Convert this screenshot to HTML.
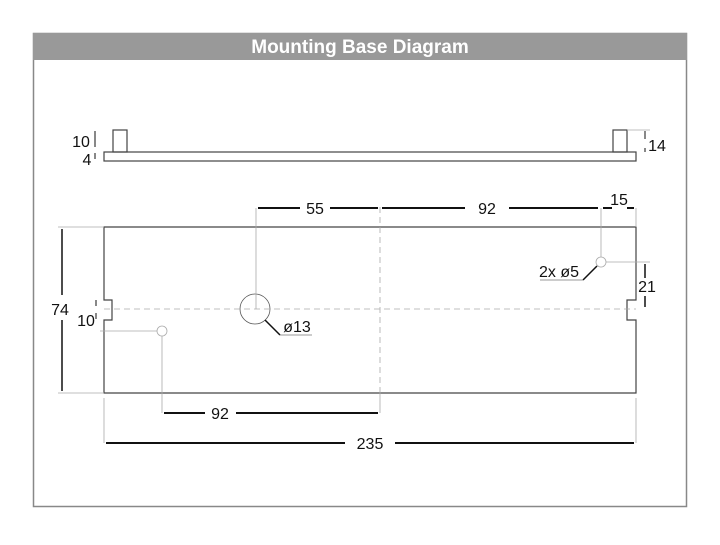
<!DOCTYPE html>
<html><head><style>
body{margin:0;background:#fff;width:720px;height:540px;overflow:hidden;font-family:"Liberation Sans",sans-serif}
</style></head><body>
<svg width="720" height="540" viewBox="0 0 720 540" xmlns="http://www.w3.org/2000/svg">
<rect x="33.5" y="33.5" width="653" height="473" fill="#fff" stroke="#888" stroke-width="1.5"/>
<rect x="33" y="33" width="654" height="27" fill="#999"/>
<text x="360" y="53" fill="#fff" font-size="19" font-weight="bold" text-anchor="middle">Mounting Base Diagram</text>
<g fill="none" stroke="#444" stroke-width="1.2">
<rect x="104" y="152" width="532" height="9"/>
<rect x="113" y="130" width="14" height="22"/>
<rect x="613" y="130" width="14" height="22"/>
<path d="M104 227H636V300H627V320H636V393H104V320H112V300H104Z"/>
</g>
<g fill="none" stroke="#aaa" stroke-width="0.8">
<circle cx="255" cy="309" r="15" stroke="#555"/>
<circle cx="162" cy="331" r="5"/>
<circle cx="601" cy="262" r="5"/>
<path d="M256 208V309M601 208V257M636 208V227M606 262H650M58 227H104M58 393H104M162 336V413M104 398V443M636 398V443M100 331H157M627 130H650M380 393V413" />
<path d="M104 309H636M380 207V393" stroke-dasharray="6 4"/>
</g>
<g stroke="#111" stroke-width="2" fill="none">
<path d="M258 208H300M330 208H378M382 208H465M509 208H598M603 208H612M627 208H634"/>
<path d="M164 413H205M236 413H378M106 443H345M395 443H634"/>
<path d="M62 229V295M62 320V391" stroke-width="1.5"/>
<path d="M645 264V278M645 296V307" stroke-width="1.5"/>
<path d="M96 300V306M96 313V319M95 131V147M95 153V159M645 131V139M645 148V152" stroke-width="1"/>
<path d="M265 320L280 335M597 266L583 280" stroke-width="1.5"/>
</g>
<path d="M280 335H312M540 280H583" stroke="#777" stroke-width="0.8"/>
<g font-size="16" fill="#111" text-anchor="middle">
<text x="315" y="214">55</text>
<text x="487" y="214">92</text>
<text x="619" y="205">15</text>
<text x="220" y="419">92</text>
<text x="370" y="449">235</text>
<text x="60" y="315">74</text>
<text x="86" y="326">10</text>
<text x="81" y="147">10</text>
<text x="87" y="165">4</text>
<text x="657" y="151">14</text>
<text x="647" y="292">21</text>
<text x="297" y="332">ø13</text>
<text x="559" y="277">2x ø5</text>
</g>
</svg>
</body></html>
